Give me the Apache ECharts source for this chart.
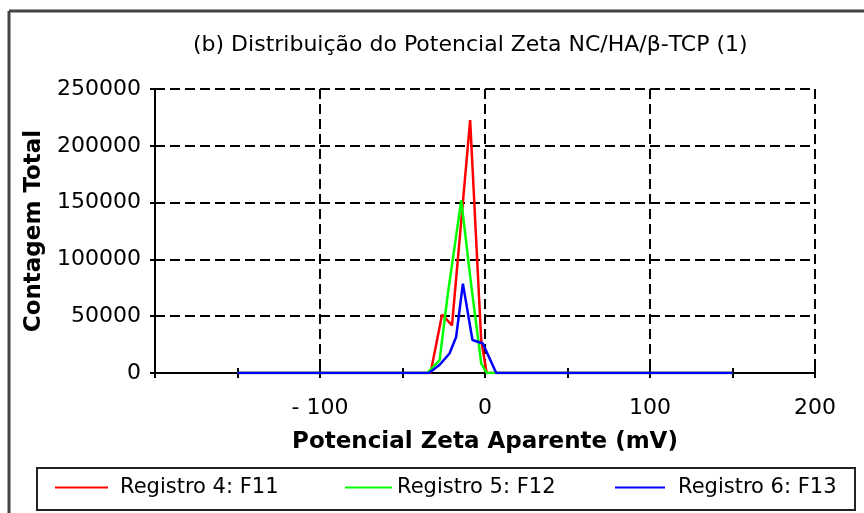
<!DOCTYPE html>
<html>
<head>
<meta charset="utf-8">
<script src="https://cdn.jsdelivr.net/npm/echarts@6/dist/echarts.min.js"></script>
<style>html,body{margin:0;padding:0;background:#fff}#c{width:864px;height:513px}</style>
</head>
<body>
<div id="c"></div>
<script>
// ---- data ----
const titleText = '(b) Distribuição do Potencial Zeta NC/HA/β-TCP (1)';
const xTitle = 'Potencial Zeta Aparente (mV)';
const yTitle = 'Contagem Total';
const seriesNames = ['Registro 4: F11', 'Registro 5: F12', 'Registro 6: F13'];
const xTickLabels = ['- 100', '0', '100', '200'];
const xTickValues = [-100, 0, 100, 200];

const redX = [-150, -33, -26, -20, -9, -2.3, 1, 150];
const redY = [0, 0, 51500, 42000, 222600, 29000, 0, 0];

const greenX = [-150, -35, -27.5, -22.5, -14.4, -8.4, -2.3, 1, 150];
const greenY = [0, 0, 11400, 70000, 152000, 78000, 8500, 0, 0];

const blueX = [-150, -34, -27.6, -21.5, -17.5, -13.4, -7.6, -1.3, 6.8, 150];
const blueY = [0, 0, 7000, 17200, 31700, 78700, 29000, 26000, 0, 0];

const colors = ['#ff0000', '#00ff00', '#0000ff'];

function pairs(xs, ys) { return xs.map((x, i) => [x, ys[i]]); }

const FONT = 'DejaVu Sans';
const chart = echarts.init(document.getElementById('c'), null, {renderer: 'canvas'});

const dashed = {show: true, lineStyle: {color: '#000', width: 2, type: [10, 5]}};

const legendBase = (name, left, w, pad) => ({
  data: [name], left: left, top: 472, orient: 'horizontal',
  icon: 'rect', itemWidth: w, itemHeight: 2,
  textStyle: {fontFamily: FONT, fontSize: 21, color: '#000', padding: [0, 0, 0, pad]},
  selectedMode: false
});

chart.setOption({
  animation: false,
  backgroundColor: '#fff',
  title: {
    text: titleText, left: 188, top: 29,
    textStyle: {fontFamily: FONT, fontSize: 22, fontWeight: 'normal', color: '#000'}
  },
  legend: [
    legendBase(seriesNames[0], 50, 53, 7),
    legendBase(seriesNames[1], 340, 47, 0),
    legendBase(seriesNames[2], 610, 50, 8)
  ],
  grid: {left: 155, right: 49, top: 89, bottom: 140, containLabel: false},
  xAxis: [
    {
      type: 'value', min: -200, max: 200, interval: 100,
      axisLine: {show: true, onZero: false, lineStyle: {color: '#000', width: 2}},
      axisTick: {show: false},
      axisLabel: {
        fontFamily: FONT, fontSize: 22, color: '#000', margin: 24,
        formatter: v => { const i = xTickValues.indexOf(v); return i >= 0 ? xTickLabels[i] : ''; }
      },
      splitLine: dashed,
      name: xTitle, nameLocation: 'middle', nameGap: 58,
      nameTextStyle: {fontFamily: FONT, fontSize: 23, fontWeight: 'bold', color: '#000'}
    },
    {
      type: 'value', min: -200, max: 200, interval: 50, position: 'bottom',
      axisLine: {show: false, onZero: false}, axisLabel: {show: false}, splitLine: {show: false},
      axisTick: {show: true, length: 5, lineStyle: {color: '#000', width: 2}}
    },
    {
      type: 'value', min: -200, max: 200, interval: 50, position: 'bottom',
      axisLine: {show: false, onZero: false}, axisLabel: {show: false}, splitLine: {show: false},
      axisTick: {show: true, inside: true, length: 5, lineStyle: {color: '#000', width: 2}}
    }
  ],
  yAxis: [
    {
      type: 'value', min: 0, max: 250000, interval: 50000,
      axisLine: {show: true, onZero: false, lineStyle: {color: '#000', width: 2}},
      axisTick: {show: true, length: 5, lineStyle: {color: '#000', width: 2}},
      axisLabel: {fontFamily: FONT, fontSize: 22, color: '#000', margin: 14, formatter: v => String(v)},
      splitLine: dashed,
      name: yTitle, nameLocation: 'middle', nameGap: 109, nameRotate: 90,
      nameTextStyle: {fontFamily: FONT, fontSize: 23, fontWeight: 'bold', color: '#000'}
    },
    {
      type: 'value', min: 0, max: 250000, interval: 50000, position: 'left',
      axisLine: {show: false, onZero: false}, axisLabel: {show: false}, splitLine: {show: false},
      axisTick: {show: true, inside: true, length: 5, lineStyle: {color: '#000', width: 2}}
    }
  ],
  series: [
    {name: seriesNames[0], type: 'line', data: pairs(redX, redY), showSymbol: false,
     color: colors[0], lineStyle: {color: colors[0], width: 2.5}, z: 3},
    {name: seriesNames[1], type: 'line', data: pairs(greenX, greenY), showSymbol: false,
     color: colors[1], lineStyle: {color: colors[1], width: 2.5}, z: 4},
    {name: seriesNames[2], type: 'line', data: pairs(blueX, blueY), showSymbol: false,
     color: colors[2], lineStyle: {color: colors[2], width: 2.5}, z: 5}
  ],
  graphic: [
    {type: 'line', shape: {x1: 9, y1: 11, x2: 864, y2: 11}, style: {stroke: '#444', lineWidth: 3}, silent: true},
    {type: 'line', shape: {x1: 9, y1: 11, x2: 9, y2: 513}, style: {stroke: '#444', lineWidth: 3}, silent: true},
    {type: 'rect', shape: {x: 37, y: 468, width: 818, height: 42}, style: {fill: 'none', stroke: '#222', lineWidth: 2}, silent: true}
  ]
});
</script>
</body>
</html>
